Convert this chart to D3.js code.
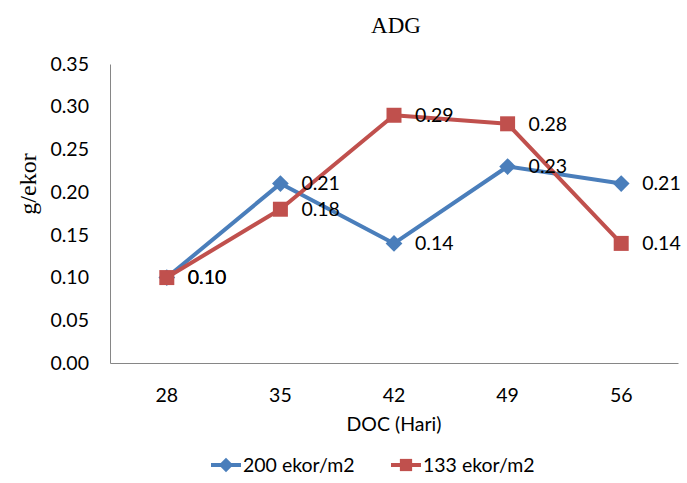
<!DOCTYPE html>
<html lang="en">
<head>
<meta charset="utf-8">
<title>ADG</title>
<script src="https://cdn.jsdelivr.net/npm/d3@7/dist/d3.min.js"></script>
<style>
  body { margin: 0; background: #fff; }
  text { fill: #000; }
</style>
</head>
<body>
<script>
// data
var days = ["28", "35", "42", "49", "56"];
var seriesNames = ["200 ekor/m2", "133 ekor/m2"];
var dens200 = [0.10, 0.21, 0.14, 0.23, 0.21];
var dens133 = [0.10, 0.18, 0.29, 0.28, 0.14];
var yTicks = [0, 0.05, 0.10, 0.15, 0.20, 0.25, 0.30, 0.35];

var W = 687, H = 483;
var margin = {top: 64, right: 9, bottom: 120, left: 110};
var w = W - margin.left - margin.right;
var h = H - margin.top - margin.bottom;
var sans = "Lato, 'Open Sans', sans-serif";
var serif = "'Liberation Serif', 'DejaVu Serif', serif";
var fs = "19.5px";

var series = [
  {name: seriesNames[0], values: dens200, color: "#4a7ebb", diamond: true},
  {name: seriesNames[1], values: dens133, color: "#c0504d", diamond: false}
];

var svg = d3.select("body").append("svg")
  .attr("width", W).attr("height", H);

var g = svg.append("g")
  .attr("transform", "translate(" + margin.left + "," + margin.top + ")");

var x = d3.scaleBand().domain(days).range([0, w]);
var y = d3.scaleLinear().domain([0, 0.35]).range([h, 0]);
function cx(i) { return x(days[i]) + x.bandwidth() / 2; }

// axes
var yAxis = g.append("g")
  .call(d3.axisLeft(y).tickValues(yTicks).tickFormat(d3.format(".2f")).tickSize(0).tickPadding(21));
var xAxis = g.append("g")
  .attr("transform", "translate(0," + h + ")")
  .call(d3.axisBottom(x).tickSize(0).tickPadding(25));
[xAxis, yAxis].forEach(function(a) {
  a.select(".domain").attr("stroke", "#868686").attr("stroke-width", 1);
  a.selectAll("text").style("font-family", sans).style("font-size", fs).attr("fill", "#000");
});

// marker path: square, or square turned 45deg for the diamond
function marker(s, big) {
  var size = s.diamond ? (big ? 140 : 105) : (big ? 225 : 150);
  return d3.symbol().type(d3.symbolSquare).size(size)();
}
function rot(s) { return s.diamond ? " rotate(45)" : ""; }

// lines + markers
var line = d3.line()
  .x(function(d, i) { return cx(i); })
  .y(function(d) { return y(d); });

series.forEach(function(s) {
  g.append("path")
    .datum(s.values)
    .attr("fill", "none")
    .attr("stroke", s.color)
    .attr("stroke-width", 4)
    .attr("stroke-linejoin", "round")
    .attr("d", line);
});
series.forEach(function(s) {
  g.selectAll(null)
    .data(s.values)
    .enter().append("path")
    .attr("transform", function(d, i) { return "translate(" + cx(i) + "," + y(d) + ")" + rot(s); })
    .attr("d", marker(s, true))
    .attr("fill", s.color);
});

// data labels
series.forEach(function(s) {
  g.selectAll(null)
    .data(s.values)
    .enter().append("text")
    .attr("x", function(d, i) { return cx(i) + 21; })
    .attr("y", function(d) { return y(d); })
    .attr("dy", "0.35em")
    .style("font-family", sans)
    .style("font-size", fs)
    .text(function(d) { return d3.format(".2f")(d); });
});

// titles
svg.append("text")
  .attr("x", 396).attr("y", 33)
  .attr("text-anchor", "middle")
  .style("font-family", serif).style("font-size", "23px")
  .text("ADG");

svg.append("text")
  .attr("transform", "translate(36,184) rotate(-90)")
  .attr("text-anchor", "middle")
  .style("font-family", serif).style("font-size", "24px")
  .text("g/ekor");

svg.append("text")
  .attr("x", margin.left + w / 2).attr("y", 431)
  .attr("text-anchor", "middle")
  .style("font-family", sans).style("font-size", fs)
  .text("DOC (Hari)");

// legend
var legX = [211, 391];
series.forEach(function(s, i) {
  var lg = svg.append("g").attr("transform", "translate(" + legX[i] + ",465)");
  lg.append("line").attr("x1", 0).attr("x2", 30).attr("stroke", s.color).attr("stroke-width", 4);
  lg.append("path")
    .attr("transform", "translate(15,0)" + rot(s))
    .attr("d", marker(s, false))
    .attr("fill", s.color);
  lg.append("text")
    .attr("x", 32).attr("dy", "0.35em")
    .style("font-family", sans).style("font-size", fs)
    .text(s.name);
});
</script>
</body>
</html>
